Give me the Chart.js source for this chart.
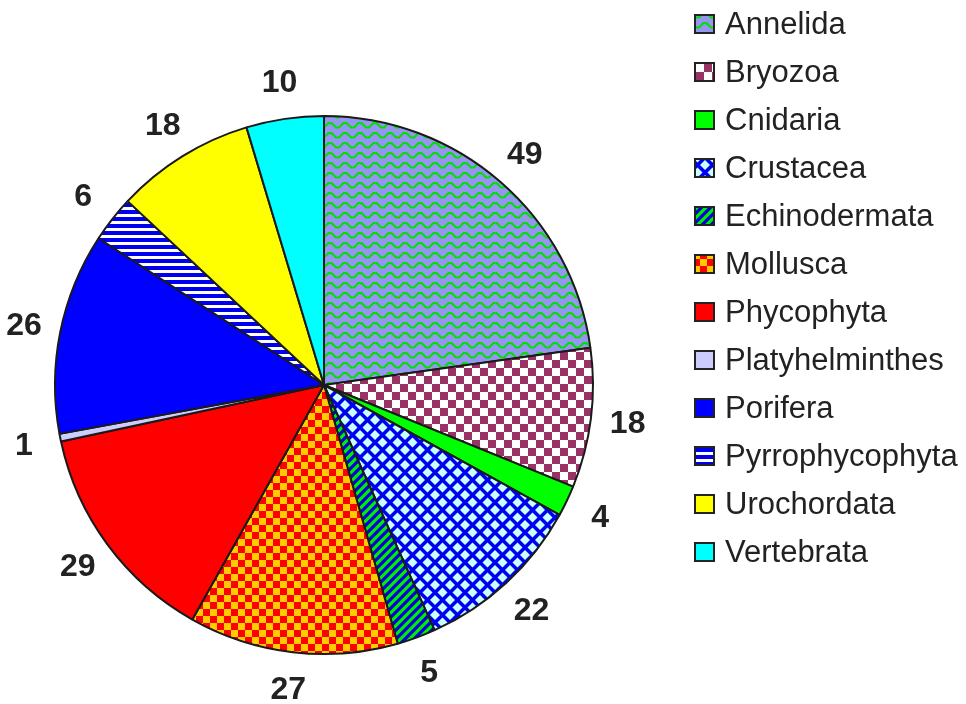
<!DOCTYPE html>
<html>
<head>
<meta charset="utf-8">
<script src="https://cdn.jsdelivr.net/npm/chart.js@4"></script>
<style>
html,body{margin:0;padding:0;background:#fff;}
#wrap{width:966px;height:704px;}
</style>
</head>
<body>
<div id="wrap"><canvas id="c" width="966" height="704"></canvas></div>
<script>
const categories = ["Annelida","Bryozoa","Cnidaria","Crustacea","Echinodermata","Mollusca","Phycophyta","Platyhelminthes","Porifera","Pyrrophycophyta","Urochordata","Vertebrata"];
const counts = [49,18,4,22,5,27,29,1,26,6,18,10];

function tile(w,h,draw){
  const c=document.createElement('canvas');c.width=w;c.height=h;
  const g=c.getContext('2d');draw(g,w,h);
  return document.createElement('canvas').getContext('2d').createPattern(c,'repeat');
}
const pAnnelida = tile(15,10,(g,w,h)=>{
  g.fillStyle='#9696F0';g.fillRect(0,0,w,h);
  g.strokeStyle='#00E000';g.lineWidth=2;
  g.beginPath();
  for(let k=-1;k<=1;k++){
    const y0=k*h+3;
    g.moveTo(-3,y0+1.5);
    g.lineTo(1.5,y0);g.lineTo(6,y0+4.5);g.lineTo(9,y0+4.5);g.lineTo(13.5,y0);g.lineTo(16.5,y0);g.lineTo(18,y0+1.5);
  }
  g.stroke();
});
const pBryozoa = tile(16,16,(g,w,h)=>{
  g.fillStyle='#ffffff';g.fillRect(0,0,w,h);
  g.fillStyle='#993366';g.fillRect(0,0,8,8);g.fillRect(8,8,8,8);
});
const pCrustacea = tile(15,15,(g,w,h)=>{
  g.fillStyle='#0000F0';g.fillRect(0,0,w,h);
  g.fillStyle='#C8FFFF';
  const d=(cx,cy)=>{g.beginPath();g.moveTo(cx,cy-5);g.lineTo(cx+5,cy);g.lineTo(cx,cy+5);g.lineTo(cx-5,cy);g.closePath();g.fill();};
  d(0,0);d(15,0);d(0,15);d(15,15);d(7.5,7.5);
});
const pEchino = tile(9,9,(g,w,h)=>{
  g.fillStyle='#00EE00';g.fillRect(0,0,w,h);
  g.strokeStyle='#0000DD';g.lineWidth=3.2;
  g.beginPath();
  for(let k=-2;k<=2;k++){g.moveTo(k*9-2,h+2);g.lineTo(k*9+w+2,-2);}
  g.stroke();
});
const pMollusca = tile(14,14,(g,w,h)=>{
  g.fillStyle='#FFCC00';g.fillRect(0,0,w,h);
  g.fillStyle='#FF0000';g.fillRect(0,0,7,7);g.fillRect(7,7,7,7);
});
const pPyrro = tile(7,7,(g,w,h)=>{
  g.fillStyle='#ffffff';g.fillRect(0,0,w,h);
  g.fillStyle='#0000F0';g.fillRect(0,0,w,4);
});
const fills = [pAnnelida,pBryozoa,'#00FF00',pCrustacea,pEchino,pMollusca,'#FF0000','#CCCCFF','#0000FF',pPyrro,'#FFFF00','#00FFFF'];

const labelPlugin = {
  id:'valueLabels',
  afterDatasetsDraw(chart){
    const ctx=chart.ctx;
    const meta=chart.getDatasetMeta(0);
    const vals=chart.data.datasets[0].data;
    ctx.save();
    ctx.font='bold 32px "Liberation Sans", Arial, sans-serif';
    ctx.fillStyle='#222';
    ctx.textAlign='center';ctx.textBaseline='middle';
    meta.data.forEach((arc,i)=>{
      const p=arc.getProps(['x','y','startAngle','endAngle','outerRadius'],true);
      const a=(p.startAngle+p.endAngle)/2;
      const r=p.outerRadius+37;
      ctx.fillText(String(vals[i]),p.x+Math.cos(a)*r,p.y+Math.sin(a)*r+1);
    });
    ctx.restore();
  }
};
const legendPlugin = {
  id:'sideLegend',
  afterDraw(chart){
    const ctx=chart.ctx;
    const labels=chart.data.labels;
    const bg=chart.data.datasets[0].backgroundColor;
    ctx.save();
    ctx.font='31px "Liberation Sans", Arial, sans-serif';
    ctx.textBaseline='middle';ctx.textAlign='left';
    labels.forEach((t,i)=>{
      const cy=24+i*48;
      ctx.fillStyle=bg[i];
      ctx.fillRect(695,cy-9,19,18);
      ctx.strokeStyle='#222';ctx.lineWidth=2;
      ctx.strokeRect(695,cy-9,19,18);
      ctx.fillStyle='#222';
      ctx.fillText(t,725,cy+1);
    });
    ctx.restore();
  }
};

new Chart(document.getElementById('c'),{
  type:'pie',
  data:{labels:categories,datasets:[{data:counts,backgroundColor:fills,borderColor:'#1a1a1a',borderWidth:2,hoverOffset:0,offset:0}]},
  options:{
    responsive:false,animation:false,
    layout:{padding:{left:54,top:115,right:372,bottom:49}},
    plugins:{legend:{display:false},tooltip:{enabled:false}}
  },
  plugins:[labelPlugin,legendPlugin]
});
</script>
</body>
</html>
